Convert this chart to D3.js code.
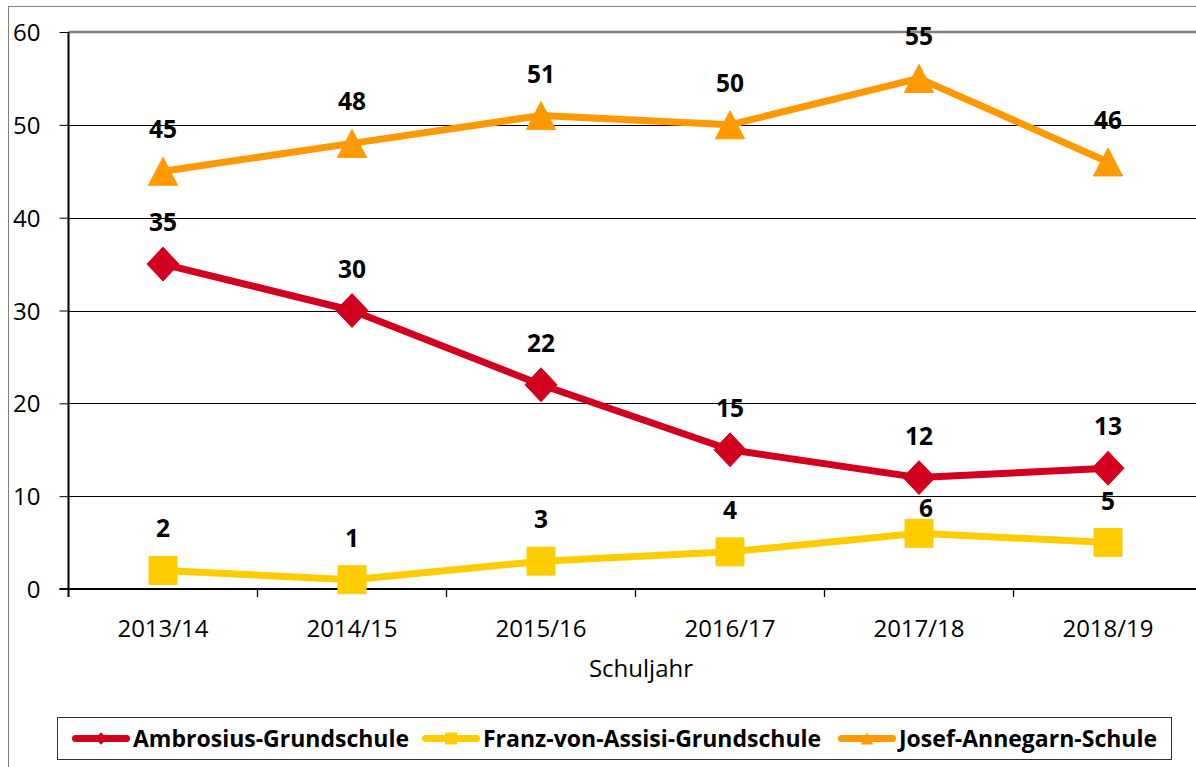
<!DOCTYPE html>
<html>
<head>
<meta charset="utf-8">
<script src="https://cdn.jsdelivr.net/npm/d3@7"></script>
<style>
  html, body { margin: 0; padding: 0; background: #fff; }
  svg { display: block; font-family: "Open Sans", "Noto Sans", sans-serif; }
</style>
</head>
<body>
<svg id="chart" width="1196" height="767"></svg>
<script>
// School years on the x axis
const years = ["2013/14", "2014/15", "2015/16", "2016/17", "2017/18", "2018/19"];

// Pupil counts per school
const ambrosius = [35, 30, 22, 15, 12, 13];
const franz = [2, 1, 3, 4, 6, 5];
const josef = [45, 48, 51, 50, 55, 46];

const yTicks = [0, 10, 20, 30, 40, 50, 60];

const seriesNames = ["Ambrosius-Grundschule", "Franz-von-Assisi-Grundschule", "Josef-Annegarn-Schule"];
const seriesColors = ["#D2001E", "#FFCC00", "#FF9900"];
const seriesSymbols = ["diamond", "square", "triangle"];

const series = [ambrosius, franz, josef].map((vals, i) => ({
  name: seriesNames[i], color: seriesColors[i], symbol: seriesSymbols[i], values: vals
}));

const FONT = "'Open Sans', 'Noto Sans', sans-serif";
const svg = d3.select("#chart");
const W = 1196, H = 767;

svg.append("rect").attr("width", W).attr("height", H).attr("fill", "#fff");
// outer chart frame
svg.append("rect").attr("x", 8.5).attr("y", 6.5).attr("width", W + 20).attr("height", H + 20)
  .attr("fill", "none").attr("stroke", "#808080").attr("stroke-width", 1);

const plot = { left: 68.5, right: 1202.5, top: 32, bottom: 589 };

const x = d3.scaleBand().domain(years).range([plot.left, plot.right]);
const y = d3.scaleLinear().domain([0, 60]).range([plot.bottom, plot.top]);

// horizontal gridlines
svg.append("g").selectAll("line").data(yTicks.filter(t => t > 0 && t < 60)).join("line")
  .attr("x1", plot.left).attr("x2", plot.right)
  .attr("y1", d => Math.round(y(d)) + 0.5).attr("y2", d => Math.round(y(d)) + 0.5)
  .attr("stroke", "#000").attr("stroke-width", 1);
// top border of plot area
svg.append("line").attr("x1", plot.left).attr("x2", plot.right)
  .attr("y1", y(60)).attr("y2", y(60)).attr("stroke", "#808080").attr("stroke-width", 2.5);

// y axis
const yAxis = d3.axisLeft(y).tickValues(yTicks).tickSize(9).tickPadding(8);
const gy = svg.append("g").attr("transform", `translate(${plot.left},0)`).call(yAxis);
gy.select(".domain").remove();
gy.selectAll(".tick line").attr("stroke", "#000").attr("stroke-width", 1);
gy.selectAll(".tick text").attr("fill", "#000").attr("dy", "0.36em").attr("x", -28)
  .style("font-family", FONT).style("font-size", "24px");
svg.append("line").attr("x1", plot.left).attr("x2", plot.left)
  .attr("y1", plot.top).attr("y2", plot.bottom + 8).attr("stroke", "#000").attr("stroke-width", 2);

// x axis: ticks at category boundaries
svg.append("line").attr("x1", plot.left - 9).attr("x2", plot.right)
  .attr("y1", plot.bottom).attr("y2", plot.bottom).attr("stroke", "#000").attr("stroke-width", 2);
const bounds = years.map(d => x(d)).concat([x(years[years.length - 1]) + x.bandwidth()]);
svg.append("g").selectAll("line").data(bounds.slice(1)).join("line")
  .attr("x1", d => d).attr("x2", d => d)
  .attr("y1", plot.bottom).attr("y2", plot.bottom + 8)
  .attr("stroke", "#000").attr("stroke-width", 1.3);
svg.append("g").attr("font-family", FONT).attr("font-size", 24)
  .selectAll("text").data(years).join("text")
  .attr("x", d => x(d) + x.bandwidth() / 2).attr("y", 637)
  .attr("text-anchor", "middle").attr("fill", "#000")
  .text(d => d);
svg.append("text").attr("x", 641).attr("y", 677).attr("text-anchor", "middle")
  .attr("font-family", FONT).attr("font-size", 24).attr("fill", "#000").text("Schuljahr");

// marker shapes
function markerPath(sym, s) {
  if (sym === "diamond") return `M0,${-s * 0.53}L${s * 0.5},0L0,${s * 0.53}L${-s * 0.5},0Z`;
  if (sym === "square") return `M${-s / 2},${-s / 2}H${s / 2}V${s / 2}H${-s / 2}Z`;
  return `M0,${-s * 0.5}L${s * 0.52},${s * 0.5}L${-s * 0.52},${s * 0.5}Z`;
}
const markerSize = { diamond: 32, square: 28, triangle: 28 };

const cx = d => x(d) + x.bandwidth() / 2;
const line = d3.line().x((d, i) => cx(years[i])).y(d => y(d));

series.forEach(s => {
  const g = svg.append("g");
  g.append("path").datum(s.values).attr("d", line)
    .attr("fill", "none").attr("stroke", s.color).attr("stroke-width", 7)
    .attr("stroke-linejoin", "round");
  g.selectAll("path.m").data(s.values).join("path").attr("class", "m")
    .attr("transform", (d, i) => `translate(${cx(years[i])},${y(d)})`)
    .attr("d", markerPath(s.symbol, markerSize[s.symbol]))
    .attr("fill", s.color).attr("stroke", s.color).attr("stroke-width", 1);
});

// value labels above each point (the 2017/18 label of the second school sits lower, beside the red line)
series.forEach((s, si) => {
  svg.append("g").attr("font-family", FONT).attr("font-size", 24.5).attr("font-weight", "bold")
    .selectAll("text").data(s.values).join("text")
    .attr("x", (d, i) => cx(years[i]) + (si === 1 && i === 4 ? 7 : 0))
    .attr("y", (d, i) => y(d) - (si === 1 && i === 4 ? 16 : 33))
    .attr("text-anchor", "middle").attr("fill", "#000").text(d => d);
});

// legend
const lg = svg.append("g").attr("font-family", FONT);
lg.append("rect").attr("x", 57.5).attr("y", 717.5).attr("width", 1114).attr("height", 42)
  .attr("fill", "#fff").attr("stroke", "#333").attr("stroke-width", 1);
const legendX = [72, 422, 838];
series.forEach((s, i) => {
  const lx = legendX[i];
  lg.append("line").attr("x1", lx + 3.5).attr("x2", lx + 54.5).attr("y1", 738.5).attr("y2", 738.5)
    .attr("stroke", s.color).attr("stroke-width", 7).attr("stroke-linecap", "round");
  lg.append("path").attr("transform", `translate(${lx + 29},738.5)`)
    .attr("d", markerPath(s.symbol, 12)).attr("fill", s.color);
  lg.append("text").attr("x", lx + 61).attr("y", 747)
    .attr("font-size", 23).attr("font-weight", "bold").attr("fill", "#000").text(s.name);
});
</script>
</body>
</html>
